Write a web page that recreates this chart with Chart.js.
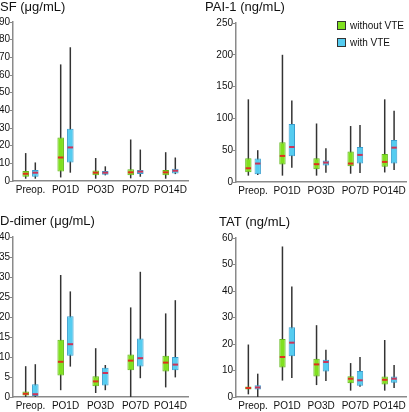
<!DOCTYPE html>
<html>
<head>
<meta charset="utf-8">
<script src="https://cdn.jsdelivr.net/npm/chart.js@4.4.1/dist/chart.umd.min.js"></script>
<style>
  html, body { margin: 0; padding: 0; background: #fff; }
  body { width: 409px; height: 412px; position: relative; overflow: hidden; font-family: "Liberation Sans", Arial, sans-serif; }
  .panel { position: absolute; }
  #legend { position: absolute; left: 337px; top: 17px; font-size: 10px; color: #111; }
  .item { display: flex; align-items: center; height: 17px; }
  .swatch { width: 7px; height: 7px; border: 1px solid #333; margin-right: 4px; }
</style>
</head>
<body>
<div class="panel" style="left:0;top:0;width:204px;height:200px"><canvas id="sf"></canvas></div>
<div class="panel" style="left:204px;top:0;width:205px;height:200px"><canvas id="pai"></canvas></div>
<div class="panel" style="left:0;top:200px;width:204px;height:212px"><canvas id="dd"></canvas></div>
<div class="panel" style="left:204px;top:200px;width:205px;height:212px"><canvas id="tat"></canvas></div>
<div id="legend">
  <div class="item"><span class="swatch" style="background:#80e020"></span>without VTE</div>
  <div class="item"><span class="swatch" style="background:#55ccf0"></span>with VTE</div>
</div>
<script>
const categories = ['Preop.', 'PO1D', 'PO3D', 'PO7D', 'PO14D'];

// each entry: [min, q1, median, q3, max]
const sfWithout = [[1.3, 2.4, 4.1, 5.6, 15.8], [2, 5.4, 13.3, 24.6, 66], [1.3, 3.2, 4.7, 6, 13], [1.5, 3.2, 4.9, 6.6, 23.5], [1.3, 3.2, 4.9, 6.2, 16.3]];
const sfWith = [[1.3, 2.4, 4.7, 6.2, 10.5], [4.7, 10.5, 19, 29.6, 75.7], [3.2, 3.6, 4.7, 5.6, 8.3], [2.4, 3.9, 5.3, 6.2, 17.8], [3.9, 4.3, 5.8, 6.9, 13.3]];
const paiWithout = [[10, 15.3, 21.6, 37.4, 130], [10, 27.4, 41, 62.6, 200], [10, 20, 28, 37.4, 92], [13, 24.7, 29, 48, 88], [15, 24, 31.6, 44, 130]];
const paiWith = [[11, 12, 29, 37, 50], [22.6, 40.5, 55, 91, 128], [14.7, 26, 30.5, 34, 53], [14, 29, 42.6, 55, 89.5], [19, 29, 54, 66, 112]];
const ddWithout = [[0, 0.4, 0.8, 1.4, 7.7], [1.7, 5.4, 8.8, 14.3, 30.5], [1, 2.7, 3.9, 5.2, 12.2], [0, 6.7, 9.1, 10.6, 22.4], [2.4, 6.4, 8.6, 10.3, 20.9]];
const ddWith = [[0, 0.25, 0.7, 3.2, 8.2], [7.6, 10.3, 13.2, 20.2, 26.4], [1.7, 2.9, 6, 7.3, 8], [4.7, 7.6, 9.7, 14.6, 31.3], [4.9, 6.7, 8.1, 10, 24.2]];
const tatWithout = [[1, 2.8, 3.4, 4, 19.8], [6.2, 11.1, 15.1, 21.9, 56.8], [4.5, 7.7, 12.3, 14.4, 27.1], [2.4, 5.2, 6.9, 7.8, 12.8], [2.4, 4.7, 6.5, 7.7, 21.5]];
const tatWith = [[0, 2.8, 3.6, 4.4, 8.8], [7.2, 15.4, 20.5, 26.3, 41.7], [6, 9.6, 13.2, 14.1, 17.8], [3.9, 4.2, 6.3, 9.8, 15.1], [3.4, 5.4, 6.9, 7.7, 12.1]];

// y axis: [max, step]
const sfAxis = [90, 10];
const paiAxis = [250, 50];
const ddAxis = [40, 5];
const tatAxis = [60, 10];

const FONT = "'Liberation Sans', Arial, sans-serif";

// whiskers behind the boxes, medians on top
const boxPlot = {
  id: 'boxPlot',
  beforeDatasetsDraw(chart) {
    const ctx = chart.ctx, y = chart.scales.y;
    ctx.save();
    ctx.strokeStyle = '#333';
    ctx.lineWidth = 1.5;
    chart.data.datasets.forEach((ds, d) => {
      chart.getDatasetMeta(d).data.forEach((bar, i) => {
        const s = ds.stats[i];
        ctx.beginPath();
        ctx.moveTo(bar.x, y.getPixelForValue(s[0]));
        ctx.lineTo(bar.x, y.getPixelForValue(s[4]));
        ctx.stroke();
      });
    });
    ctx.restore();
  },
  afterDatasetsDraw(chart) {
    const ctx = chart.ctx, y = chart.scales.y;
    ctx.save();
    ctx.lineWidth = 2;
    chart.data.datasets.forEach((ds, d) => {
      ctx.strokeStyle = ds.medianColor;
      chart.getDatasetMeta(d).data.forEach((bar, i) => {
        const py = y.getPixelForValue(ds.stats[i][2]);
        ctx.beginPath();
        ctx.moveTo(bar.x - bar.width / 2 + 0.5, py);
        ctx.lineTo(bar.x + bar.width / 2 - 0.5, py);
        ctx.stroke();
      });
    });
    ctx.restore();
  }
};

function makeChart(id, title, without, withVte, axis, lay) {
  new Chart(document.getElementById(id), {
    type: 'bar',
    data: {
      labels: categories,
      datasets: [{
        label: 'without VTE',
        stats: without,
        data: without.map(s => [s[1], s[3]]),
        backgroundColor: '#80e020',
        borderColor: '#62b81a',
        medianColor: '#e0301e',
        borderWidth: 1,
        borderSkipped: false
      }, {
        label: 'with VTE',
        stats: withVte,
        data: withVte.map(s => [s[1], s[3]]),
        backgroundColor: '#55ccf0',
        borderColor: '#3a9fd0',
        medianColor: '#cc3458',
        borderWidth: 1,
        borderSkipped: false
      }]
    },
    options: {
      responsive: true,
      maintainAspectRatio: false,
      animation: false,
      categoryPercentage: 0.55,
      barPercentage: 0.68,
      layout: { padding: { left: lay.left, right: lay.right, top: 0, bottom: 0 } },
      plugins: {
        legend: { display: false },
        tooltip: { enabled: false },
        title: {
          display: true,
          text: title,
          align: 'start',
          color: '#111',
          font: { family: FONT, size: 13, weight: 'normal', lineHeight: 1.2 },
          padding: { top: lay.titleTop, bottom: lay.titleBottom }
        }
      },
      scales: {
        x: {
          grid: { display: false, drawTicks: false },
          border: { display: true, color: '#8a8a8a', width: 1.5 },
          ticks: { color: '#111', font: { family: FONT, size: 10 }, padding: 3, maxRotation: 0, autoSkip: false },
          afterFit: s => { s.height = lay.xHeight; }
        },
        y: {
          min: 0,
          max: axis[0],
          grid: { drawOnChartArea: false, drawTicks: true, tickLength: 3, color: '#8a8a8a' },
          border: { display: true, color: '#8a8a8a', width: 1.5 },
          ticks: { stepSize: axis[1], color: '#111', font: { family: FONT, size: 10 }, padding: 0 },
          afterFit: s => { s.width = lay.yWidth; }
        }
      }
    },
    plugins: [boxPlot]
  });
}

makeChart('sf', 'SF (\u03bcg/mL)', sfWithout, sfWith, sfAxis,
  { left: 0, right: 16, yWidth: 13, xHeight: 19, titleTop: 0, titleBottom: 6.4 });
makeChart('pai', 'PAI-1 (ng/mL)', paiWithout, paiWith, paiAxis,
  { left: 1, right: 2, yWidth: 31, xHeight: 18, titleTop: 0, titleBottom: 7.4 });
makeChart('dd', 'D-dimer (\u03bcg/mL)', ddWithout, ddWith, ddAxis,
  { left: 0, right: 16, yWidth: 13, xHeight: 15, titleTop: 13.7, titleBottom: 7.7 });
makeChart('tat', 'TAT (ng/mL)', tatWithout, tatWith, tatAxis,
  { left: 15, right: 2, yWidth: 17, xHeight: 15, titleTop: 14.2, titleBottom: 8.2 });
</script>
</body>
</html>
